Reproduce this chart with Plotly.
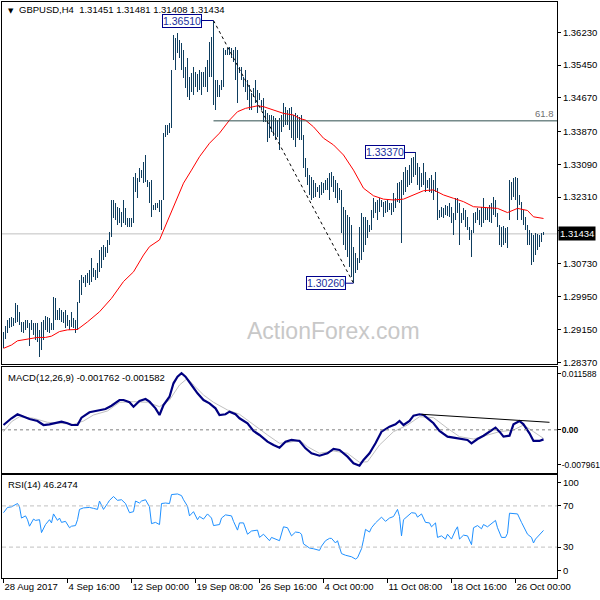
import plotly.graph_objects as go

# ---------------- data ----------------
highs = [
 1.2910,1.2924,1.2938,1.2943,1.2946,1.2943,1.2979,1.2974,1.2957,1.2934,
 1.2934,1.2938,1.2938,1.2931,1.2938,1.2931,1.2931,1.2931,1.2915,1.2934,
 1.2938,1.2948,1.2946,1.2943,1.2931,1.2993,1.2991,1.2962,1.2967,1.2962,
 1.2957,1.2962,1.2950,1.2938,1.2957,1.2943,1.2938,1.2981,1.3034,1.3046,
 1.3041,1.3046,1.3050,1.3057,1.3086,1.3062,1.3057,1.3074,1.3105,1.3112,
 1.3117,1.3112,1.3129,1.3148,1.3224,1.3224,1.3217,1.3207,1.3205,1.3195,
 1.3224,1.3205,1.3181,1.3181,1.3181,1.3279,1.3288,1.3276,1.3300,1.3295,
 1.3314,1.3331,1.3272,1.3267,1.3272,1.3212,1.3217,1.3217,1.3224,1.3224,
 1.3383,1.3402,1.3402,1.3407,1.3533,
 1.3617,1.3610,1.3621,1.3605,1.3598,1.3581,1.3541,1.3562,1.3517,1.3526,
 1.3541,1.3529,1.3524,1.3533,1.3529,1.3529,1.3541,1.3557,1.3600,1.3612,
 1.3651,
 1.3510,1.3510,1.3498,1.3510,1.3586,1.3581,1.3586,1.3588,1.3586,1.3581,
 1.3588,1.3581,1.3541,1.3541,1.3517,1.3533,1.3510,1.3498,1.3479,1.3491,
 1.3510,1.3486,1.3479,1.3462,1.3467,1.3438,1.3431,1.3426,1.3426,1.3424,
 1.3419,1.3414,1.3419,1.3426,1.3455,1.3445,1.3438,1.3443,1.3445,1.3426,
 1.3431,1.3426,1.3422,1.3426,1.3379,1.3324,1.3300,1.3283,1.3279,1.3272,
 1.3264,1.3255,1.3260,1.3267,1.3264,1.3272,1.3276,1.3288,1.3291,1.3281,
 1.3272,1.3264,1.3253,1.3248,1.3207,1.3200,1.3188,1.3184,1.3165,1.3112,
 1.3098,1.3086,1.3160,1.3193,1.3184,1.3184,1.3176,1.3165,1.3200,1.3229,
 1.3219,1.3224,1.3229,1.3224,1.3219,1.3222,1.3224,1.3217,1.3217,1.3241,
 1.3229,1.3264,1.3267,1.3272,
 1.3291,1.3303,1.3295,1.3307,1.3324,1.3326,1.3337,1.3312,1.3303,1.3288,
 1.3312,1.3291,1.3272,1.3276,1.3284,1.3272,1.3291,1.3253,1.3200,1.3207,
 1.3205,1.3212,1.3210,1.3217,1.3207,1.3193,1.3229,1.3229,1.3217,1.3193,
 1.3205,1.3200,1.3184,1.3160,1.3153,1.3193,1.3195,1.3205,1.3200,1.3207,
 1.3229,1.3207,1.3205,1.3212,1.3217,1.3231,1.3224,1.3193,1.3165,1.3160,
 1.3162,1.3157,1.3160,1.3272,
 1.3267,1.3276,1.3279,1.3276,1.3236,1.3219,1.3200,1.3184,1.3165,1.3153,
 1.3145,1.3141,1.3145,1.3143,1.3141,1.3145,1.3148,
]
lows = [
 1.2872,1.2893,1.2907,1.2919,1.2922,1.2924,1.2931,1.2934,1.2926,1.2910,
 1.2907,1.2915,1.2919,1.2877,1.2915,1.2903,1.2891,1.2886,1.2850,1.2867,
 1.2891,1.2915,1.2910,1.2907,1.2915,1.2915,1.2938,1.2938,1.2938,1.2934,
 1.2931,1.2919,1.2924,1.2915,1.2922,1.2919,1.2907,1.2915,1.2979,1.2998,
 1.3026,1.3017,1.3026,1.3022,1.3029,1.3041,1.3034,1.3038,1.3053,1.3062,
 1.3081,1.3088,1.3098,1.3117,1.3136,1.3181,1.3176,1.3165,1.3169,1.3160,
 1.3169,1.3165,1.3160,1.3160,1.3160,1.3169,1.3243,1.3229,1.3267,1.3276,
 1.3264,1.3267,1.3255,1.3217,1.3184,1.3200,1.3200,1.3205,1.3195,1.3153,
 1.3224,1.3374,1.3379,1.3383,1.3395,
 1.3557,1.3533,1.3574,1.3562,1.3533,1.3514,1.3491,1.3469,1.3462,1.3481,
 1.3474,1.3493,1.3481,1.3486,1.3474,1.3493,1.3493,1.3481,1.3517,1.3517,
 1.3450,
 1.3438,1.3469,1.3469,1.3486,1.3493,1.3569,1.3569,1.3569,1.3562,1.3552,
 1.3510,1.3455,1.3526,1.3510,1.3493,1.3481,1.3462,1.3438,1.3438,1.3469,
 1.3455,1.3431,1.3462,1.3438,1.3410,1.3410,1.3362,1.3372,1.3386,1.3376,
 1.3367,1.3374,1.3343,1.3386,1.3398,1.3402,1.3402,1.3391,1.3372,1.3367,
 1.3350,1.3372,1.3367,1.3367,1.3300,1.3279,1.3260,1.3236,1.3224,1.3229,
 1.3231,1.3243,1.3229,1.3236,1.3241,1.3248,1.3248,1.3224,1.3255,1.3243,
 1.3229,1.3217,1.3224,1.3145,1.3117,1.3105,1.3088,1.3065,1.3041,1.3026,
 1.3050,1.3057,1.3074,1.3081,1.3100,1.3117,1.3133,1.3148,1.3153,1.3181,
 1.3193,1.3176,1.3195,1.3207,1.3184,1.3193,1.3195,1.3200,1.3188,1.3195,
 1.3205,1.3219,1.3217,1.3122,
 1.3236,1.3243,1.3255,1.3260,1.3264,1.3279,1.3283,1.3260,1.3248,1.3255,
 1.3260,1.3243,1.3253,1.3243,1.3241,1.3224,1.3243,1.3176,1.3181,1.3184,
 1.3181,1.3188,1.3186,1.3184,1.3169,1.3141,1.3176,1.3193,1.3117,1.3169,
 1.3176,1.3160,1.3153,1.3129,1.3088,1.3145,1.3169,1.3176,1.3165,1.3160,
 1.3169,1.3176,1.3176,1.3172,1.3169,1.3188,1.3184,1.3160,1.3117,1.3112,
 1.3117,1.3122,1.3110,1.3176,
 1.3224,1.3231,1.3224,1.3176,1.3212,1.3176,1.3165,1.3153,1.3117,1.3117,
 1.3069,1.3076,1.3093,1.3105,1.3112,1.3124,1.3141,
]
last_close = 1.31434

ma_idx = [0,4,7,12,17,21,24,28,32,37,42,48,54,60,65,70,73,78,83,87,90,94,98,103,108,
          113,117,121,127,130,135,140,145,148,151,155,160,165,170,175,180,185,190,195,
          200,205,210,215,220,225,230,235,242,247,252,257,262,265,270]
ma_val = [1.2871,1.2879,1.2889,1.2893,1.2897,1.2897,1.2900,1.2911,1.2915,1.2916,1.2934,
          1.2958,1.2990,1.3030,1.3053,1.3093,1.3113,1.3129,1.3184,1.3232,1.3264,1.3295,
          1.3327,1.3359,1.3383,1.3414,1.3434,1.3442,1.3448,1.3446,1.3438,1.3430,1.3426,
          1.3418,1.3414,1.3398,1.3371,1.3355,1.3331,1.3295,1.3252,1.3234,1.3226,1.3224,
          1.3226,1.3236,1.3246,1.3248,1.3236,1.3228,1.3220,1.3208,1.3206,1.3204,1.3194,
          1.3204,1.3199,1.3184,1.3180]

macd_idx = [0,4,7,10,13,17,20,23,27,29,32,34,37,39,43,47,51,54,58,60,63,65,68,71,73,76,78,
            80,83,85,87,89,91,94,97,100,103,106,108,111,113,116,118,122,125,128,132,135,138,
            141,144,148,151,154,158,162,165,168,172,175,178,180,183,186,189,193,196,198,200,
            203,205,208,210,213,215,218,222,225,228,232,234,237,240,243,246,248,250,253,255,
            258,260,263,265,268,270]
macd_val = [0.00089,0.00213,0.00287,0.00242,0.00200,0.00163,0.00089,0.00102,0.00139,0.00150,
            0.00121,0.00089,0.00089,0.00224,0.00324,0.00348,0.00384,0.00445,0.00550,0.00550,
            0.00508,0.00427,0.00532,0.00569,0.00519,0.00397,0.00274,0.00458,0.00611,0.00858,
            0.00980,0.01043,0.00980,0.00827,0.00674,0.00550,0.00489,0.00397,0.00274,0.00287,
            0.00335,0.00287,0.00213,0.00121,-0.00021,-0.00095,-0.00219,-0.00280,-0.00329,
            -0.00219,-0.00187,-0.00205,-0.00341,-0.00433,-0.00477,-0.00433,-0.00353,-0.00372,
            -0.00495,-0.00617,-0.00661,-0.00556,-0.00433,-0.00248,-0.00034,0.00058,0.00102,
            0.00163,0.00089,0.00163,0.00261,0.00287,0.00274,0.00182,0.00121,-0.00021,-0.00126,
            -0.00145,-0.00169,-0.00187,-0.00248,-0.00169,-0.00108,-0.00034,0.00040,-0.00034,
            -0.00126,-0.00108,0.00102,0.00163,0.00102,-0.00064,-0.00205,-0.00205,-0.00176]
signal_idx = [0,4,8,15,22,28,35,40,45,52,58,65,72,78,83,88,92,95,100,105,112,118,125,132,138,
              143,148,152,158,165,172,178,182,188,195,202,208,215,222,228,235,242,248,255,260,
              265,270]
signal_val = [-0.00034,0.00150,0.00242,0.00213,0.00139,0.00121,0.00102,0.00163,0.00274,0.00348,
              0.00508,0.00519,0.00508,0.00427,0.00550,0.00827,0.00950,0.00827,0.00643,0.00508,
              0.00366,0.00287,0.00089,-0.00095,-0.00248,-0.00230,-0.00187,-0.00311,-0.00433,
              -0.00390,-0.00433,-0.00599,-0.00588,-0.00280,-0.00034,0.00089,0.00242,0.00224,
              0.00028,-0.00126,-0.00169,-0.00095,-0.00034,-0.00003,0.00089,-0.00034,-0.00158]
macd_trend = [(209, 0.00287), (273, 0.00139)]

rsi_pts = [(0,63.4),(2,68.5),(4,69.1),(7,72.3),(8,69.1),(9,58.2),(11,60.3),(12,56.6),(13,50.3),
 (15,57.2),(16,55.9),(18,56.6),(19,44.1),(21,51.9),(23,56.6),(24,53.5),(25,62.2),(27,55.9),
 (28,58.2),(29,54.0),(31,55.0),(33,48.8),(34,50.3),(36,50.9),(37,56.6),(38,66.6),(40,68.1),
 (43,68.5),(45,67.6),(47,66.6),(48,74.7),(50,66.6),(52,72.3),(53,75.4),(55,79.1),(57,75.4),
 (59,76.0),(61,72.3),(63,63.4),(65,64.4),(66,74.7),(68,72.8),(69,74.7),(71,76.0),(73,69.1),
 (74,52.8),(76,54.0),(78,51.9),(79,72.3),(81,72.8),(83,72.3),(84,81.0),(87,81.6),(89,80.0),
 (90,76.0),(92,69.7),(93,60.3),(94,62.9),(95,64.4),(97,56.6),(98,59.7),(100,57.2),(102,62.2),
 (104,58.2),(105,50.9),(108,51.9),(109,58.2),(111,61.3),(114,60.3),(115,55.0),(117,46.5),
 (118,53.5),(120,53.5),(122,42.5),(124,45.6),(127,46.5),(128,39.4),(130,42.5),(133,36.2),
 (134,39.4),(136,37.8),(138,36.2),(140,49.7),(142,48.8),(144,40.9),(146,44.6),(148,44.1),
 (149,42.5),(150,33.1),(153,29.1),(155,28.4),(158,26.8),(159,30.9),(161,36.2),(163,38.5),
 (164,38.5),(166,34.0),(167,36.2),(169,23.7),(171,22.1),(174,20.6),(176,18.4),(177,19.7),
 (179,28.4),(180,37.1),(181,47.2),(183,44.6),(184,48.8),(186,53.5),(188,57.2),(189,59.1),
 (191,55.0),(193,58.2),(195,59.7),(197,66.6),(198,59.7),(199,40.9),(200,56.6),(202,59.7),
 (204,63.4),(206,62.9),(207,59.1),(209,62.2),(211,54.0),(213,53.5),(214,49.7),(216,53.5),
 (217,39.4),(219,40.9),(221,37.8),(222,42.5),(224,37.8),(226,46.5),(227,49.7),(228,37.8),
 (230,41.6),(232,40.9),(234,32.4),(235,48.8),(237,50.9),(239,47.8),(240,51.9),(242,49.7),
 (244,52.8),(246,55.9),(247,48.8),(249,39.4),(251,39.4),(252,43.4),(253,62.9),(255,62.9),
 (257,62.2),(259,54.0),(260,50.3),(262,42.5),(264,39.4),(265,34.0),(266,37.8),(268,42.5),
 (270,46.2)]
rsi_idx = [p[0] for p in rsi_pts]
rsi_val = [p[1] for p in rsi_pts]

# swing labels: (bar index, price, text, label right-edge bar index)
swing_high = (105, 1.36510)
swing_low = (175, 1.30260)
swing_labels = [(105, 1.36510, "1.36510", 99.0),
                (206, 1.33370, "1.33370", 200.7),
                (175, 1.30260, "1.30260", 171.0)]
fib_ratio = 0.618

price_ticks = [1.36230, 1.35450, 1.34670, 1.33870, 1.33090, 1.32310, 1.31510,
               1.30730, 1.29950, 1.29150, 1.28370]
price_tick_text = ["1.36230", "1.35450", "1.34670", "1.33870", "1.33090", "1.32310", "",
                   "1.30730", "1.29950", "1.29150", "1.28370"]
date_tick_idx = [0, 32, 64, 96, 128, 160, 192, 224, 256]
date_tick_text = ["28 Aug 2017", "4 Sep 16:00", "12 Sep 00:00", "19 Sep 08:00",
                  "26 Sep 16:00", "4 Oct 00:00", "11 Oct 08:00", "18 Oct 16:00",
                  "26 Oct 00:00"]
macd_ticks = [0.0103, 0.0, -0.00648]
macd_tick_text = ["0.011588", "<b>0.00</b>", "-0.007961"]
rsi_ticks = [93, 70, 30, 7]
rsi_tick_text = ["100", "70", "30", "0"]

# ---------------- figure ----------------
FONT = "Liberation Sans, Arial, sans-serif"
BAR_COLOR = "#0e3d5e"
XR = [-0.75, 276.75]

n = len(highs)
xs = list(range(n))
fig = go.Figure()
fig.add_trace(go.Bar(x=xs, y=[h - l for h, l in zip(highs, lows)], base=lows,
                     width=0.4, marker=dict(color=BAR_COLOR, line=dict(width=0)),
                     xaxis="x", yaxis="y", hoverinfo="skip"))
fig.add_trace(go.Scatter(x=ma_idx, y=ma_val, mode="lines",
                         line=dict(color="#ff0000", width=1), xaxis="x", yaxis="y"))
fig.add_trace(go.Scatter(x=signal_idx, y=signal_val, mode="lines",
                         line=dict(color="#c0c0c0", width=1), xaxis="x2", yaxis="y2"))
fig.add_trace(go.Scatter(x=macd_idx, y=macd_val, mode="lines",
                         line=dict(color="#000080", width=2.2), xaxis="x2", yaxis="y2"))
fig.add_trace(go.Scatter(x=[p[0] for p in macd_trend], y=[p[1] for p in macd_trend],
                         mode="lines", line=dict(color="#000000", width=1),
                         xaxis="x2", yaxis="y2"))
fig.add_trace(go.Scatter(x=rsi_idx, y=rsi_val, mode="lines",
                         line=dict(color="#1e90ff", width=1), xaxis="x3", yaxis="y3"))

# plot area: pixels x 2..557, y 2..578
def py(px):
    return (578 - px) / 576.0

def pxx(px):
    return (px - 2) / 555.0

axis_common = dict(showline=True, mirror=True, linecolor="black", linewidth=1,
                   showgrid=False, zeroline=False, automargin=False)
tickfont = dict(family=FONT, size=9.5, color="black")
tickfont_small = dict(family=FONT, size=8.5, color="black")

fig.update_layout(
    width=600, height=600, showlegend=False, bargap=0,
    margin=dict(l=2, r=43, t=2, b=22, autoexpand=False),
    paper_bgcolor="white", plot_bgcolor="white",
    xaxis=dict(domain=[0, 1], anchor="y", range=XR, showticklabels=False, ticks="",
               **axis_common),
    xaxis2=dict(domain=[0, 1], anchor="y2", range=XR, showticklabels=False, ticks="",
                matches="x", **axis_common),
    xaxis3=dict(domain=[0, 1], anchor="y3", range=XR, tickvals=date_tick_idx,
                ticktext=date_tick_text, ticks="outside", ticklen=4, tickcolor="black",
                ticklabelposition="outside right", tickangle=0, tickfont=tickfont,
                matches="x", **axis_common),
    yaxis=dict(domain=[py(364), 1], anchor="x", side="right", range=[1.28338, 1.36950],
               tickvals=price_ticks, ticktext=price_tick_text,
               ticks="outside", ticklen=3, tickcolor="black", tickfont=tickfont,
               **axis_common),
    yaxis2=dict(domain=[py(473), py(367)], anchor="x2", side="right",
                range=[-0.007961, 0.011588], tickvals=macd_ticks, ticktext=macd_tick_text,
                ticks="outside", ticklen=3, tickcolor="black", tickfont=tickfont_small,
                ticklabelstandoff=-1, **axis_common),
    yaxis3=dict(domain=[0, py(475)], anchor="x3", side="right", range=[0, 100],
                tickvals=rsi_ticks, ticktext=rsi_tick_text, ticks="outside", ticklen=3,
                tickcolor="black", tickfont=tickfont, **axis_common),
)

shapes = []
shapes.append(dict(type="line", xref="x domain", yref="y", x0=0, x1=1,
                   y0=last_close, y1=last_close, line=dict(color="#c0c0c0", width=1),
                   layer="below"))
fib_level = swing_low[1] + fib_ratio * (swing_high[1] - swing_low[1])
shapes.append(dict(type="line", xref="x", yref="y", x0=swing_high[0], x1=XR[1],
                   y0=fib_level, y1=fib_level, line=dict(color="#2f4f4f", width=1)))
shapes.append(dict(type="line", xref="x", yref="y", x0=swing_high[0], y0=swing_high[1],
                   x1=swing_low[0], y1=swing_low[1],
                   line=dict(color="black", width=1, dash="dot")))
for bi, pv, txt, lx in swing_labels:
    shapes.append(dict(type="line", xref="x", yref="y", x0=lx, x1=bi, y0=pv, y1=pv,
                       line=dict(color="#00008b", width=1)))
shapes.append(dict(type="line", xref="x2 domain", yref="y2", x0=0, x1=1, y0=0, y1=0,
                   line=dict(color="#808080", width=1, dash="3px,3px")))
for lv in (70, 30):
    shapes.append(dict(type="line", xref="x3 domain", yref="y3", x0=0, x1=1, y0=lv, y1=lv,
                       line=dict(color="#c0c0c0", width=1, dash="4px,3px")))
fig.update_layout(shapes=shapes)

ann = []
ann.append(dict(xref="paper", yref="paper", x=pxx(6), y=py(11), xanchor="left",
                yanchor="middle", text="▼", showarrow=False,
                font=dict(family="DejaVu Sans", size=7, color="black")))
ann.append(dict(xref="paper", yref="paper", x=pxx(17), y=py(10), xanchor="left",
                yanchor="middle", showarrow=False,
                text="GBPUSD,H4  1.31451 1.31481 1.31408 1.31434",
                font=dict(family=FONT, size=9.5, color="black")))
ann.append(dict(xref="paper", yref="paper", x=pxx(6), y=py(377), xanchor="left",
                yanchor="middle", showarrow=False,
                text="MACD(12,26,9) -0.001762 -0.001582",
                font=dict(family=FONT, size=9.5, color="black")))
ann.append(dict(xref="paper", yref="paper", x=pxx(6), y=py(484), xanchor="left",
                yanchor="middle", showarrow=False, text="RSI(14) 46.2474",
                font=dict(family=FONT, size=9.5, color="black")))
ann.append(dict(xref="paper", yref="paper", x=pxx(333), y=py(331), xanchor="center",
                yanchor="middle", showarrow=False, text="ActionForex.com",
                font=dict(family=FONT, size=23, color="#c8c8c8")))
for bi, pv, txt, lx in swing_labels:
    ann.append(dict(xref="x", yref="y", x=lx, y=pv, xanchor="right", yanchor="middle",
                    text=txt, showarrow=False, bgcolor="white", bordercolor="#00008b",
                    borderwidth=1, borderpad=0,
                    font=dict(family=FONT, size=10.5, color="#1a2f9c")))
ann.append(dict(xref="paper", yref="y", x=1, y=fib_level, xanchor="right",
                yanchor="bottom", xshift=-1, showarrow=False, text="61.8",
                font=dict(family=FONT, size=9.5, color="#707070")))
ann.append(dict(xref="paper", yref="y", x=1, y=last_close, xanchor="left",
                yanchor="middle", xshift=1, showarrow=False, text="1.31434",
                bgcolor="black", borderpad=1,
                font=dict(family=FONT, size=9.5, color="white")))
fig.update_layout(annotations=ann)

fig.write_html("out.html", config={"displayModeBar": False},
               post_script="document.body.style.margin='0';document.body.style.padding='0';")
